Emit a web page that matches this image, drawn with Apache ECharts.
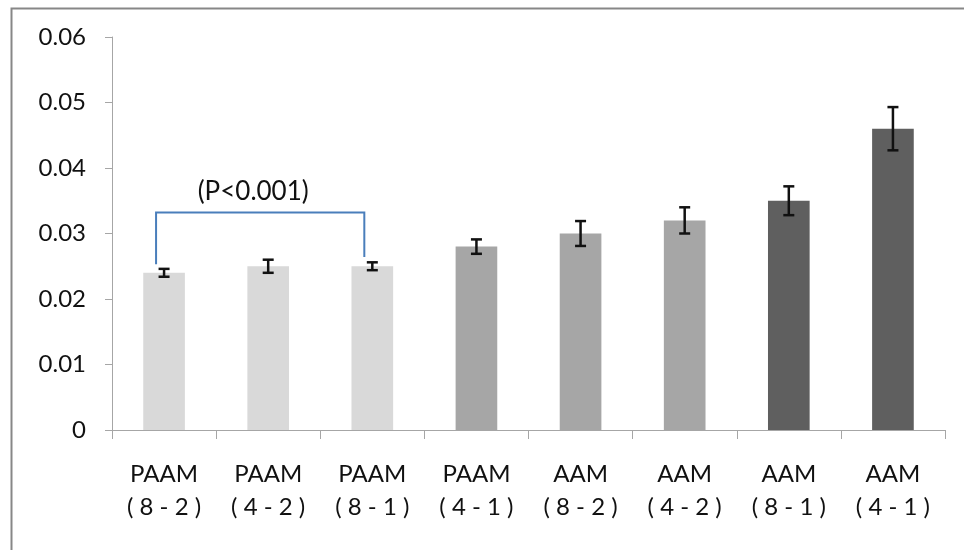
<!DOCTYPE html>
<html>
<head>
<meta charset="utf-8">
<script src="https://cdn.jsdelivr.net/npm/echarts@6/dist/echarts.min.js"></script>
<style>
  html, body { margin: 0; padding: 0; background: #fff; }
  #chart { width: 964px; height: 550px; }
</style>
</head>
<body>
<div id="chart"></div>
<script>
// Sample groups and their measured means with error (± half-range)
const categories = ['PAAM\n( 8 - 2 )', 'PAAM\n( 4 - 2 )', 'PAAM\n( 8 - 1 )', 'PAAM\n( 4 - 1 )',
                    'AAM\n( 8 - 2 )', 'AAM\n( 4 - 2 )', 'AAM\n( 8 - 1 )', 'AAM\n( 4 - 1 )'];
const means  = [0.024, 0.025, 0.025, 0.028, 0.030, 0.032, 0.035, 0.046];
const errors = [0.0006, 0.0010, 0.0006, 0.0011, 0.0019, 0.0020, 0.0022, 0.0033];
const shadeGroup = [0, 0, 0, 1, 1, 1, 2, 2];
const shades = ['#d9d9d9', '#a6a6a6', '#5f5f5f'];

// Significance bracket between the first and third groups
const bracketFrom = 0, bracketTo = 2;
const bracketTop = 0.0332;
const bracketLegEnds = [0.0253, 0.0264];
const bracketLabel = '(P<0.001)';

const yTicks = [0, 0.01, 0.02, 0.03, 0.04, 0.05, 0.06];

const FONT = 'Lato';
const chart = echarts.init(document.getElementById('chart'));

chart.setOption({
  animation: false,
  backgroundColor: '#ffffff',
  grid: { left: 112, right: 19, top: 37, bottom: 120, containLabel: false },
  graphic: [{
    type: 'rect',
    left: 9, top: 6,
    shape: { width: 1000, height: 600 },
    style: { fill: 'none', stroke: '#878787', lineWidth: 2 },
    silent: true
  }],
  xAxis: {
    type: 'category',
    data: categories,
    axisLine: { lineStyle: { color: '#a6a6a6', width: 1 } },
    axisTick: { show: true, length: 9, alignWithLabel: false, lineStyle: { color: '#a6a6a6' } },
    axisLabel: {
      interval: 0, margin: 28,
      fontFamily: FONT, fontSize: 24, color: '#111', lineHeight: 33
    },
    splitLine: { show: false }
  },
  yAxis: {
    type: 'value',
    min: yTicks[0], max: yTicks[yTicks.length - 1], interval: 0.01,
    axisLine: { show: true, lineStyle: { color: '#a6a6a6', width: 1 } },
    axisTick: { show: true, length: 7, lineStyle: { color: '#a6a6a6' } },
    axisLabel: {
      margin: 26, fontFamily: FONT, fontSize: 24, color: '#111',
      formatter: v => (v === 0 ? '0' : v.toFixed(2))
    },
    splitLine: { show: false }
  },
  series: [
    {
      type: 'bar',
      barWidth: '40%',
      data: means.map((v, i) => ({ value: v, itemStyle: { color: shades[shadeGroup[i]] } })),
      z: 2
    },
    {
      // error bars
      type: 'custom',
      data: means.map((v, i) => [i, v - errors[i], v + errors[i]]),
      renderItem: (params, api) => {
        const lo = api.coord([api.value(0), api.value(1)]);
        const hi = api.coord([api.value(0), api.value(2)]);
        const half = 5.5;
        const st = { stroke: '#111', lineWidth: 2.5 };
        return {
          type: 'group',
          children: [
            { type: 'line', shape: { x1: hi[0], y1: hi[1], x2: lo[0], y2: lo[1] }, style: st },
            { type: 'line', shape: { x1: hi[0] - half, y1: hi[1], x2: hi[0] + half, y2: hi[1] }, style: st },
            { type: 'line', shape: { x1: lo[0] - half, y1: lo[1], x2: lo[0] + half, y2: lo[1] }, style: st }
          ]
        };
      },
      z: 3
    },
    {
      // significance bracket
      type: 'custom',
      data: [[bracketFrom, bracketTo, bracketTop, bracketLegEnds[0], bracketLegEnds[1]]],
      renderItem: (params, api) => {
        const shift = -8;
        const aTop = api.coord([api.value(0), api.value(2)]);
        const bTop = api.coord([api.value(1), api.value(2)]);
        const aEnd = api.coord([api.value(0), api.value(3)]);
        const bEnd = api.coord([api.value(1), api.value(4)]);
        const x1 = aTop[0] + shift, x2 = bTop[0] + shift, y = aTop[1];
        return {
          type: 'group',
          children: [
            {
              type: 'polyline',
              shape: { points: [[x1, aEnd[1]], [x1, y], [x2, y], [x2, bEnd[1]]] },
              style: { stroke: '#4a7ebb', lineWidth: 2, fill: 'none' }
            },
            {
              type: 'text',
              x: (x1 + x2) / 2 - 7, y: y - 21,
              style: {
                text: bracketLabel, fontFamily: FONT, fontSize: 26, fill: '#111',
                align: 'center', verticalAlign: 'middle'
              }
            }
          ]
        };
      },
      z: 4
    }
  ]
});
</script>
</body>
</html>
